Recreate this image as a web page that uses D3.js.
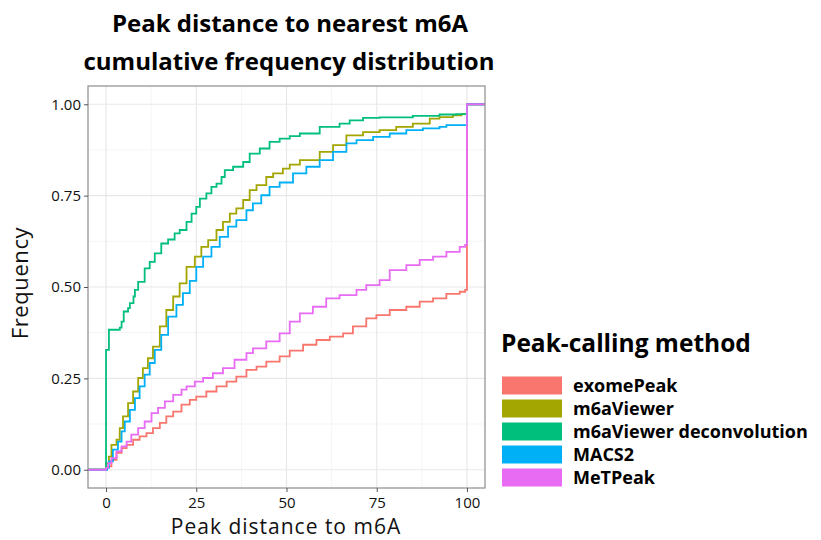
<!DOCTYPE html>
<html>
<head>
<meta charset="utf-8">
<script src="https://cdn.jsdelivr.net/npm/d3@7"></script>
<style>
  body { margin: 0; background: #fff; }
  svg { display: block; }
  text { font-family: "Open Sans", "DejaVu Sans", sans-serif; }
</style>
</head>
<body>
<svg id="chart" width="821" height="540"></svg>
<script>
// ---- data (distance, cumulative frequency) ----
var methods = ["exomePeak", "m6aViewer", "m6aViewer deconvolution", "MACS2", "MeTPeak"];
var colors = ["#F8766D", "#A3A500", "#00BF7D", "#00B0F6", "#E76BF3"];

var exomePeak = [[-5,0],[0,0.009],[1.5,0.027],[2.9,0.046],[4.3,0.059],[5.7,0.068],[7.5,0.082],[9.3,0.091],
  [11.2,0.100],[13,0.114],[14.9,0.128],[16.7,0.146],[18.6,0.159],[20.9,0.178],[23.2,0.191],[25,0.200],
  [27.8,0.214],[30.6,0.228],[33.4,0.241],[36.1,0.255],[38.9,0.273],[41.7,0.282],[44.4,0.296],[48.1,0.310],
  [50.9,0.326],[54.6,0.342],[58.3,0.355],[62,0.364],[65.7,0.373],[68.4,0.392],[72.1,0.414],[74.9,0.423],
  [78.6,0.437],[83.2,0.446],[86.9,0.460],[90.6,0.469],[94.3,0.481],[98,0.487],[99.5,0.492],[100,1],[105,1]];

var m6aViewer = [[-5,0],[0,0.018],[0.8,0.036],[1.5,0.068],[2.9,0.082],[3.8,0.114],[4.7,0.146],[6.1,0.182],
  [7.5,0.214],[8.9,0.251],[10.2,0.278],[11.6,0.305],[13,0.337],[14.9,0.392],[16.7,0.437],[18.6,0.474],
  [20.4,0.510],[22.3,0.555],[24.6,0.583],[26.4,0.610],[28.3,0.628],[30.6,0.656],[32.4,0.678],[34.3,0.701],
  [36.1,0.715],[38,0.738],[39.8,0.765],[41.7,0.779],[44.4,0.801],[46.3,0.811],[49,0.824],[50.9,0.835],
  [53.7,0.847],[59.2,0.870],[62.9,0.888],[66.6,0.915],[71.2,0.924],[75.8,0.929],[80.4,0.938],[85,0.947],
  [89.7,0.961],[92.4,0.965],[96.1,0.970],[98.5,0.973],[100,1],[105,1]];

var m6aViewerDeconv = [[-5,0],[0,0.328],[0.8,0.383],[3.8,0.389],[4.3,0.405],[4.9,0.433],[6.1,0.442],[6.6,0.456],
  [7.6,0.474],[8,0.492],[8.9,0.514],[10.7,0.551],[12.1,0.569],[13.5,0.592],[15.3,0.619],[17.2,0.630],
  [19,0.647],[20.4,0.656],[22.3,0.678],[23.7,0.701],[25,0.719],[26,0.742],[27.8,0.756],[29.2,0.774],
  [30.6,0.783],[32,0.801],[32.9,0.820],[35.2,0.829],[38,0.842],[39.8,0.865],[42.6,0.879],[45.3,0.897],
  [48.1,0.906],[50.9,0.913],[53.7,0.920],[59.2,0.938],[64.7,0.947],[67.5,0.956],[71.2,0.963],[75.8,0.964],
  [85,0.968],[92.4,0.972],[97,0.973],[100,1],[105,1]];

var macs2 = [[-5,0],[0.3,0.005],[0.8,0.023],[1.9,0.055],[3.3,0.077],[4.3,0.105],[5.2,0.132],[6.6,0.164],
  [8,0.196],[9.3,0.228],[10.7,0.260],[12.1,0.292],[13.5,0.328],[15.3,0.369],[17.2,0.419],[19.5,0.451],
  [21.3,0.483],[23.2,0.517],[25,0.555],[26.9,0.583],[29.2,0.610],[31.5,0.637],[33.8,0.665],[36.1,0.683],
  [38.9,0.710],[40.7,0.729],[43,0.751],[45.3,0.774],[48.1,0.786],[51.8,0.811],[55.5,0.829],[59.2,0.847],
  [62.9,0.870],[66.6,0.893],[69.4,0.902],[74,0.911],[78.6,0.920],[83.2,0.929],[87.8,0.934],[92.4,0.938],
  [94.3,0.943],[100,1],[105,1]];

var metPeak = [[-5,0],[0,0.005],[0.6,0.018],[1.5,0.032],[2.9,0.050],[4.3,0.064],[5.7,0.077],[7,0.096],
  [8.9,0.114],[10.7,0.132],[12.6,0.155],[14.4,0.169],[16.3,0.187],[18.6,0.205],[20.9,0.219],[22.3,0.228],
  [24.6,0.241],[26.9,0.251],[29.6,0.264],[32.4,0.278],[35.6,0.301],[38.9,0.319],[40.7,0.332],[44.4,0.351],
  [48.1,0.373],[50.9,0.405],[53.7,0.428],[57.3,0.446],[61,0.469],[64.7,0.478],[69.4,0.492],[72.1,0.505],
  [75.8,0.519],[78.6,0.546],[83.2,0.560],[86.9,0.574],[90.6,0.583],[94.3,0.596],[98,0.610],[99.5,0.615],
  [100,1],[105,1]];

var seriesData = [exomePeak, m6aViewer, m6aViewerDeconv, macs2, metPeak];

var xTicks = [0, 25, 50, 75, 100];
var yTicks = [0, 0.25, 0.5, 0.75, 1];
var xMinor = [12.5, 37.5, 62.5, 87.5];
var yMinor = [0.125, 0.375, 0.625, 0.875];

// ---- layout ----
var svg = d3.select("#chart");
var panel = { left: 88, right: 485, top: 86, bottom: 488 };

var x = d3.scaleLinear().domain([-5, 105]).range([panel.left, panel.right]);
var y = d3.scaleLinear().domain([-0.05, 1.05]).range([panel.bottom, panel.top]);

var g = svg.append("g");

// grid
g.selectAll(".xminor").data(xMinor).enter().append("line")
  .attr("x1", function(d) { return x(d); }).attr("x2", function(d) { return x(d); })
  .attr("y1", panel.top).attr("y2", panel.bottom)
  .attr("stroke", "#f3f3f3").attr("stroke-width", 0.8);
g.selectAll(".yminor").data(yMinor).enter().append("line")
  .attr("y1", function(d) { return y(d); }).attr("y2", function(d) { return y(d); })
  .attr("x1", panel.left).attr("x2", panel.right)
  .attr("stroke", "#f3f3f3").attr("stroke-width", 0.8);
g.selectAll(".xmajor").data(xTicks).enter().append("line")
  .attr("x1", function(d) { return x(d); }).attr("x2", function(d) { return x(d); })
  .attr("y1", panel.top).attr("y2", panel.bottom)
  .attr("stroke", "#e8e8e8").attr("stroke-width", 1.2);
g.selectAll(".ymajor").data(yTicks).enter().append("line")
  .attr("y1", function(d) { return y(d); }).attr("y2", function(d) { return y(d); })
  .attr("x1", panel.left).attr("x2", panel.right)
  .attr("stroke", "#e8e8e8").attr("stroke-width", 1.2);

// step lines
var line = d3.line()
  .x(function(d) { return x(d[0]); })
  .y(function(d) { return y(d[1]); })
  .curve(d3.curveStepAfter);

g.selectAll(".ecdf").data(seriesData).enter().append("path")
  .attr("class", "ecdf")
  .attr("d", line)
  .attr("fill", "none")
  .attr("stroke", function(d, i) { return colors[i]; })
  .attr("stroke-width", 1.8);

// panel border
g.append("rect")
  .attr("x", panel.left).attr("y", panel.top)
  .attr("width", panel.right - panel.left).attr("height", panel.bottom - panel.top)
  .attr("fill", "none").attr("stroke", "#8c8c8c").attr("stroke-width", 1.2);

// axes
var xAxis = svg.append("g")
  .attr("transform", "translate(0," + panel.bottom + ")")
  .call(d3.axisBottom(x).tickValues(xTicks).tickSize(4).tickPadding(5).tickFormat(d3.format("d")));
var yAxis = svg.append("g")
  .attr("transform", "translate(" + panel.left + ",0)")
  .call(d3.axisLeft(y).tickValues(yTicks).tickSize(4).tickPadding(3).tickFormat(d3.format(".2f")));

[xAxis, yAxis].forEach(function(a) {
  a.select(".domain").remove();
  a.selectAll(".tick line").attr("stroke", "#555");
  a.selectAll(".tick text").attr("fill", "#111").style("font-size", "15px")
    .style("font-family", "'Open Sans', sans-serif");
});

// axis titles
svg.append("text")
  .attr("x", 286).attr("y", 534)
  .attr("text-anchor", "middle").style("font-size", "21px").style("letter-spacing", "1px")
  .attr("fill", "#111")
  .text("Peak distance to m6A");
svg.append("text")
  .attr("transform", "translate(28,283) rotate(-90)")
  .attr("text-anchor", "middle").style("font-size", "22px").style("letter-spacing", "0.6px")
  .attr("fill", "#111")
  .text("Frequency");

// title
var title = svg.append("text")
  .attr("text-anchor", "middle").style("font-size", "24px").style("font-weight", "bold")
  .attr("fill", "#000");
title.append("tspan").attr("x", 290).attr("y", 32).text("Peak distance to nearest m6A");
title.append("tspan").attr("x", 289).attr("y", 70).text("cumulative frequency distribution");

// legend
var legend = svg.append("g").attr("transform", "translate(501,0)");
legend.append("text")
  .attr("x", 0).attr("y", 352)
  .style("font-size", "24.5px").style("font-weight", "bold").attr("fill", "#000")
  .text("Peak-calling method");

var keys = legend.selectAll(".key").data(methods).enter().append("g")
  .attr("class", "key")
  .attr("transform", function(d, i) { return "translate(0," + (376.5 + i * 23) + ")"; });
keys.append("rect")
  .attr("x", 1).attr("y", 0).attr("width", 60).attr("height", 18)
  .attr("fill", function(d, i) { return colors[i]; });
keys.append("text")
  .attr("x", 72).attr("y", 15)
  .style("font-size", "18px").style("font-weight", "bold").attr("fill", "#000")
  .text(function(d) { return d; });
</script>
</body>
</html>
